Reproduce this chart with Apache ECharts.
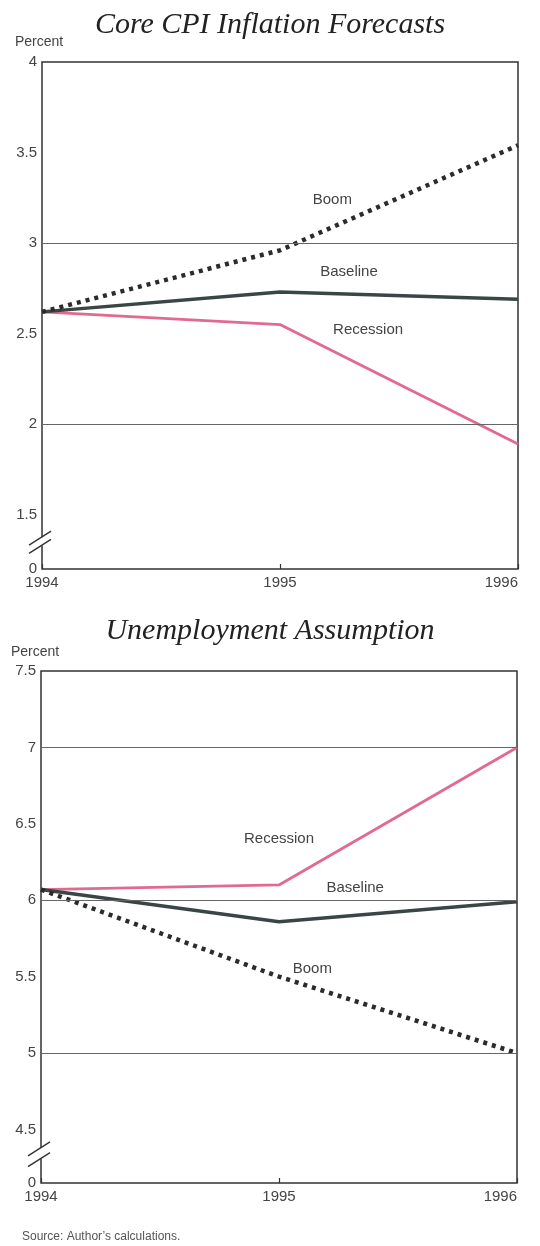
<!DOCTYPE html>
<html>
<head>
<meta charset="utf-8">
<script src="https://cdn.jsdelivr.net/npm/echarts@6/dist/echarts.min.js"></script>
<style>
html,body{margin:0;padding:0;background:#fff;}
#c{width:540px;height:1246px;}
</style>
</head>
<body>
<div id="c"></div>
<script>
// ---- data ----
const years = [1994, 1995, 1996];
const cpiBaseline = [2.62, 2.73, 2.69];
const cpiRecession = [2.62, 2.55, 1.89];
const cpiBoom = [2.62, 2.96, 3.54];
const unBaseline = [6.07, 5.86, 5.99];
const unRecession = [6.07, 6.10, 7.0];
const unBoom = [6.07, 5.5, 5.0];
const cpiTicks = [1.5, 2, 2.5, 3, 3.5, 4];
const unTicks = [4.5, 5, 5.5, 6, 6.5, 7, 7.5];
const cpiGrid = [3, 2];
const unGrid = [7, 6, 5];
const cpiMin = 1.2, cpiMax = 4;
const unMin = 4.15, unMax = 7.5;
const titles = ['Core CPI Inflation Forecasts', 'Unemployment Assumption'];

const PINK = '#e06a90', DARK = '#3a4646', DOT = '#2b2b2b', TXT = '#444';
const chart = echarts.init(document.getElementById('c'));

function pairs(v){ return years.map((y,i)=>[y, v[i]]); }
function yAxis(idx, min, max, ticks){
  return {
    type:'value', gridIndex:idx, min:min, max:max,
    splitLine:{show:false}, axisLine:{show:false}, axisTick:{show:false},
    axisLabel:{customValues:[min].concat(ticks), color:TXT, fontSize:15, fontFamily:'Liberation Sans', margin:5,
      formatter:v=> Math.abs(v-min)<1e-6 ? '0' : String(v)}
  };
}
function xAxis(idx){
  return {
    type:'value', gridIndex:idx, min:1994, max:1996, interval:1,
    splitLine:{show:false}, axisLine:{show:false},
    axisTick:{show:true, inside:true, length:5, lineStyle:{color:'#333', width:1.2}},
    axisLabel:{color:TXT, fontSize:15, fontFamily:'Liberation Sans', margin:6, alignMinLabel:'center', alignMaxLabel:'right',
      formatter:v=>String(v)}
  };
}
function gl(vals){
  return {silent:true, symbol:'none', label:{show:false}, lineStyle:{color:'#666', width:1, type:'solid'},
    data: vals.map(v=>({yAxis:v}))};
}
function line(name, data, idx, style){
  return {name, type:'line', xAxisIndex:idx, yAxisIndex:idx, data:pairs(data), symbol:'none', silent:true,
    lineStyle:style, z:3};
}
const sty = {
  base:{color:DARK, width:3.5},
  rec:{color:PINK, width:2.8},
  boom:{color:DOT, width:4.5, type:[4,5]}
};

chart.setOption({
  animation:false,
  grid:[
    {left:42, top:62, width:476, height:507, show:true, borderColor:'#333', borderWidth:1.5, backgroundColor:'transparent'},
    {left:41, top:671, width:476, height:512, show:true, borderColor:'#333', borderWidth:1.5, backgroundColor:'transparent'}
  ],
  xAxis:[xAxis(0), xAxis(1)],
  yAxis:[yAxis(0,cpiMin,cpiMax,cpiTicks), yAxis(1,unMin,unMax,unTicks)],
  series:[
    {type:'line', xAxisIndex:0, yAxisIndex:0, data:[], markLine:gl(cpiGrid), z:1},
    {type:'line', xAxisIndex:1, yAxisIndex:1, data:[], markLine:gl(unGrid), z:1},
    line('Recession', cpiRecession, 0, sty.rec),
    line('Baseline', cpiBaseline, 0, sty.base),
    line('Boom', cpiBoom, 0, sty.boom),
    line('Recession', unRecession, 1, sty.rec),
    line('Baseline', unBaseline, 1, sty.base),
    line('Boom', unBoom, 1, sty.boom)
  ]
});

// annotation positions (data space)
const notes = [
  [0,'Boom',1995.22,3.24],[0,'Baseline',1995.29,2.84],[0,'Recession',1995.37,2.52],
  [1,'Recession',1995.0,6.40],[1,'Baseline',1995.32,6.08],[1,'Boom',1995.14,5.55]
];
const breaks = [[0,1.376,1.33],[1,4.38,4.31]];
const g = [];
notes.forEach(n=>{
  const p = chart.convertToPixel({gridIndex:n[0]}, [n[2], n[3]]);
  g.push({type:'text', x:p[0], y:p[1], style:{text:n[1], fill:TXT, font:'15px "Liberation Sans"', align:'center', verticalAlign:'middle'}});
});
breaks.forEach(b=>{
  const p1 = chart.convertToPixel({gridIndex:b[0]}, [1994, b[1]]);
  const p2 = chart.convertToPixel({gridIndex:b[0]}, [1994, b[2]]);
  g.push({type:'rect', shape:{x:p1[0]-3, y:p1[1], width:6, height:p2[1]-p1[1]}, style:{fill:'#fff'}, z:10});
  [p1,p2].forEach(p=>{
    g.push({type:'line', shape:{x1:p[0]-13, y1:p[1]+8, x2:p[0]+9, y2:p[1]-6}, style:{stroke:'#333', lineWidth:1.4}, z:11});
  });
});
g.push({type:'text', left:'center', top:10, style:{text:titles[0], font:'italic 30px "Liberation Serif"', fill:'#222'}});
g.push({type:'text', left:'center', top:616, style:{text:titles[1], font:'italic 30px "Liberation Serif"', fill:'#222'}});
g.push({type:'text', x:15, y:35, style:{text:'Percent', font:'14px "Liberation Sans"', fill:TXT}});
g.push({type:'text', x:11, y:645, style:{text:'Percent', font:'14px "Liberation Sans"', fill:TXT}});
g.push({type:'text', x:22, y:1231, style:{text:'Source: Author\u2019s calculations.', font:'12px "Liberation Sans"', fill:'#555'}});
chart.setOption({graphic:g});
</script>
</body>
</html>
